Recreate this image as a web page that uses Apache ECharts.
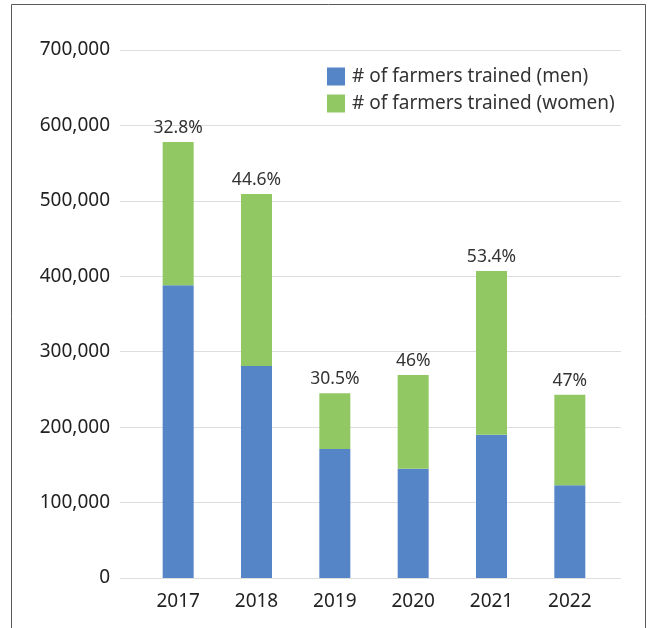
<!DOCTYPE html>
<html>
<head>
<meta charset="utf-8">
<script src="https://cdn.jsdelivr.net/npm/echarts@6/dist/echarts.min.js"></script>
<style>
  html, body { margin: 0; padding: 0; background: #fff; }
  #chart { width: 658px; height: 628px; }
</style>
</head>
<body>
<div id="chart"></div>
<script>
const years = ['2017', '2018', '2019', '2020', '2021', '2022']
const menTrained = [388000, 281000, 171000, 145000, 190000, 123000]
const womenTrained = [190000, 228000, 74000, 124000, 217000, 120000]
const womenShare = ['32.8%', '44.6%', '30.5%', '46%', '53.4%', '47%']
const yMax = 700000
const yStep = 100000

const chart = echarts.init(document.getElementById('chart'))
const font = '"Noto Sans", sans-serif'

const option = {
  animation: false,
  textStyle: { fontFamily: font },
  graphic: [
    {
      type: 'rect',
      shape: { x: 11.5, y: 4.5, width: 634, height: 640 },
      style: { fill: 'none', stroke: '#5a5a5a', lineWidth: 1 }
    }
  ],
  legend: {
    top: 62,
    left: 322,
    orient: 'vertical',
    itemWidth: 18,
    itemHeight: 18,
    itemGap: 8,
    icon: 'rect',
    textStyle: { fontSize: 19, color: '#333', fontFamily: font, padding: [0, 0, 0, 2] }
  },
  // grid 0 carries the value axis + gridlines, grid 1 carries the bars (inset like the original)
  grid: [
    { left: 120, right: 37, top: 50, bottom: 50 },
    { left: 139, right: 49, top: 50, bottom: 50 }
  ],
  xAxis: [
    { type: 'value', gridIndex: 0, show: false },
    {
      type: 'category',
      gridIndex: 1,
      data: years,
      axisLine: { show: false },
      axisTick: { show: false },
      axisLabel: { fontSize: 19, color: '#222', margin: 14 }
    }
  ],
  yAxis: [
    {
      type: 'value',
      gridIndex: 0,
      min: 0,
      max: yMax,
      interval: yStep,
      axisLine: { show: false },
      axisTick: { show: false },
      splitLine: { lineStyle: { color: '#dedede' } },
      axisLabel: {
        fontSize: 19,
        color: '#222',
        margin: 10,
        formatter: v => v.toLocaleString('en-US')
      }
    },
    {
      type: 'value',
      gridIndex: 1,
      min: 0,
      max: yMax,
      interval: yStep,
      show: false
    }
  ],
  series: [
    {
      name: '# of farmers trained (men)',
      type: 'bar',
      stack: 'total',
      xAxisIndex: 1,
      yAxisIndex: 1,
      barWidth: 31,
      itemStyle: { color: '#5585c6' },
      data: menTrained
    },
    {
      name: '# of farmers trained (women)',
      type: 'bar',
      stack: 'total',
      xAxisIndex: 1,
      yAxisIndex: 1,
      barWidth: 31,
      itemStyle: { color: '#92c864' },
      label: {
        show: true,
        position: 'top',
        distance: 5,
        fontSize: 17.5,
        color: '#333',
        formatter: p => womenShare[p.dataIndex]
      },
      data: womenTrained
    }
  ]
}
chart.setOption(option)
</script>
</body>
</html>
